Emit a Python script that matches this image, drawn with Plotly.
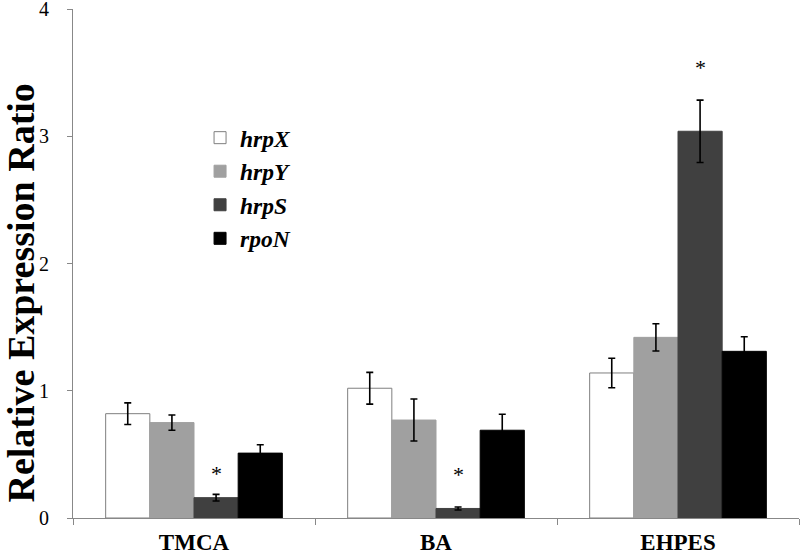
import plotly.graph_objects as go

categories = ["TMCA", "BA", "EHPES"]
genes = ["hrpX", "hrpY", "hrpS", "rpoN"]
hrpX = [0.82, 1.02, 1.14]
hrpX_err = [0.085, 0.125, 0.116]
hrpY = [0.75, 0.77, 1.42]
hrpY_err = [0.06, 0.165, 0.107]
hrpS = [0.16, 0.075, 3.04]
hrpS_err = [0.026, 0.012, 0.245]
rpoN = [0.51, 0.69, 1.31]
rpoN_err = [0.066, 0.125, 0.115]
sig_y = [0.35, 0.34, 3.54]  # asterisk heights above hrpS bars
y_ticks = [0, 1, 2, 3, 4]
y_title = "Relative Expression Ratio"

values = [hrpX, hrpY, hrpS, rpoN]
errors = [hrpX_err, hrpY_err, hrpS_err, rpoN_err]
fills = ["#FFFFFF", "#A0A0A0", "#404040", "#000000"]
lines = ["#7F7F7F", "#A0A0A0", "#404040", "#000000"]

FONT = "Liberation Serif"
BARGAP = 0.27

fig = go.Figure()
for g, v, e, f, lc in zip(genes, values, errors, fills, lines):
    fig.add_trace(go.Bar(
        name=f"<b><i>{g}</i></b>", x=categories, y=v,
        marker=dict(color=f, line=dict(color=lc, width=1)),
        error_y=dict(type="data", array=e, color="#000000", thickness=1.6, width=3.5),
    ))

bw = (1 - BARGAP) / 4
for i, sy in enumerate(sig_y):
    fig.add_annotation(x=i + 0.5 * bw, y=sy, xref="x", yref="y", text="*",
                       showarrow=False, font=dict(family=FONT, size=22, color="#000"))

fig.add_annotation(x=-0.0716, y=0.441, xref="paper", yref="paper",
                   xanchor="center", yanchor="middle", textangle=-90,
                   text=f"<b>{y_title}</b>", showarrow=False,
                   font=dict(family=FONT, size=38, color="#000"))

fig.update_layout(
    width=800, height=555,
    margin=dict(l=73, r=1, t=9, b=37),
    paper_bgcolor="white", plot_bgcolor="white",
    barmode="group", bargap=BARGAP, bargroupgap=0,
    font=dict(family=FONT, color="#000"),
    legend=dict(x=0.175, y=0.79, xanchor="left", yanchor="top",
                font=dict(family=FONT, size=23.5, color="#000"),
                bgcolor="rgba(0,0,0,0)", tracegroupgap=0),
    xaxis=dict(showline=True, linecolor="#888888", linewidth=1,
               ticks="outside", tickson="boundaries", ticklen=6, tickcolor="#888888",
               tickfont=dict(family=FONT, size=23, color="#000"),
               tickprefix="<b>", ticksuffix="</b>", showgrid=False,
               ticklabelstandoff=3, automargin=False,
               range=[-0.5, 2.5]),
    yaxis=dict(range=[0, 4.001], tickvals=y_ticks, showline=True,
               linecolor="#888888", linewidth=1,
               ticks="outside", ticklen=5, tickcolor="#888888", showgrid=False,
               zeroline=False, automargin=False, ticklabeloverflow="allow",
               tickfont=dict(family=FONT, size=20, color="#000"),
               tickprefix="<b>", ticksuffix="</b>", ticklabelstandoff=14),
)

fig.write_html("out.html", config={"displayModeBar": False},
               post_script="document.body.style.margin='0';")
